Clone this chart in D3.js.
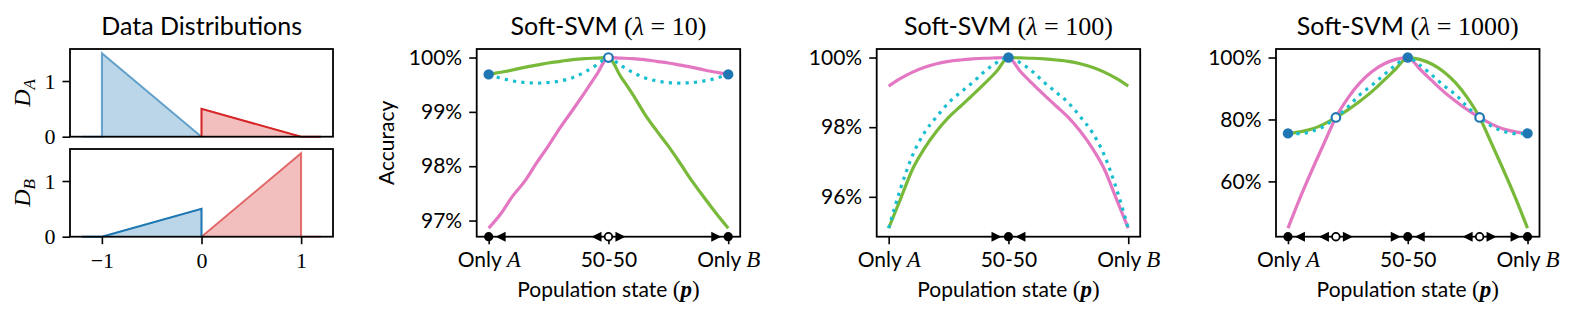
<!DOCTYPE html>
<html>
<head>
<meta charset="utf-8">
<script src="https://cdn.jsdelivr.net/npm/d3@7"></script>
<style>
  body { margin: 0; background: #fff; }
  text { font-family: Lato, "Open Sans", sans-serif; fill: #000; }
  .m { font-family: "Liberation Serif", "DejaVu Serif", serif; }
</style>
</head>
<body>
<div id="myChart"></div>
<script>
//----- data
// distribution panel: densities of the two classes under D_A and D_B
var distRange = [-1.2, 1.2];
var distTicks = [-1, 0, 1];
var distYTicks = [0, 1];
var densA_blue = [[-1, 0], [-1, 1.5], [0, 0]];
var densA_red = [[0, 0], [0, 0.5], [1, 0]];
var densB_blue = [[-1, 0], [0, 0.5], [0, 0]];
var densB_red = [[0, 0], [1, 1.5], [1, 0]];

// population state grid
var pGrid = [0, 0.05, 0.1, 0.15, 0.2, 0.25, 0.3, 0.35, 0.4, 0.45, 0.5,
             0.55, 0.6, 0.65, 0.7, 0.75, 0.8, 0.85, 0.9, 0.95, 1];
var xTickVals = [0, 0.5, 1];
var lambdas = [10, 100, 1000];

// lambda = 10
var accA10 = [99.69, 99.73, 99.77, 99.82, 99.86, 99.90, 99.93, 99.96, 99.98, 99.99, 100.0,
              99.66, 99.33, 98.97, 98.66, 98.37, 98.05, 97.72, 97.42, 97.13, 96.86];
var accB10 = [96.86, 97.12, 97.45, 97.72, 98.06, 98.38, 98.72, 99.03, 99.35, 99.68, 100.0,
              99.99, 99.98, 99.96, 99.93, 99.90, 99.86, 99.82, 99.77, 99.73, 99.69];
var avg10 = [99.69, 99.62, 99.57, 99.54, 99.53, 99.54, 99.57, 99.63, 99.73, 99.86, 100.0,
             99.86, 99.73, 99.63, 99.57, 99.54, 99.53, 99.54, 99.57, 99.62, 99.69];
var yTicks10 = [97, 98, 99, 100];

// lambda = 100
var accA100 = [95.10, 95.95, 96.80, 97.40, 97.88, 98.28, 98.60, 98.92, 99.25, 99.60, 100.0,
               99.99, 99.98, 99.96, 99.93, 99.89, 99.82, 99.72, 99.58, 99.40, 99.18];
var accB100 = [99.18, 99.40, 99.58, 99.72, 99.82, 99.89, 99.93, 99.96, 99.98, 99.99, 100.0,
               99.60, 99.25, 98.92, 98.60, 98.28, 97.88, 97.40, 96.80, 95.95, 95.10];
var avg100 = [95.10, 96.25, 97.20, 97.85, 98.30, 98.70, 99.00, 99.28, 99.60, 99.85, 100.0,
              99.85, 99.60, 99.28, 99.00, 98.70, 98.30, 97.85, 97.20, 96.25, 95.10];
var yTicks100 = [96, 98, 100];

// lambda = 1000
var accA1000 = [75.5, 76.0, 76.9, 78.5, 80.65, 83.1, 85.9, 89.0, 92.6, 96.3, 100.0,
                99.4, 97.9, 95.4, 91.8, 86.9, 80.65, 72.2, 63.6, 54.6, 44.9];
var accB1000 = [44.9, 54.6, 63.6, 72.2, 80.65, 86.9, 91.8, 95.4, 97.9, 99.4, 100.0,
                96.3, 92.6, 89.0, 85.9, 83.1, 80.65, 78.5, 76.9, 76.0, 75.5];
var avg1000 = [75.5, 75.4, 76.2, 77.8, 80.65, 84.0, 88.0, 91.0, 94.4, 97.6, 100.0,
               97.6, 94.4, 91.0, 88.0, 84.0, 80.65, 77.8, 76.2, 75.4, 75.5];
var yTicks1000 = [60, 80, 100];

// equilibria: accuracy markers (filled = stable, hollow = unstable)
var stableAcc10 = [[0, 99.69], [1, 99.69]];
var unstableAcc10 = [[0.5, 100]];
var stableAcc100 = [[0.5, 100]];
var unstableAcc100 = [];
var stableAcc1000 = [[0, 75.5], [0.5, 100], [1, 75.5]];
var unstableAcc1000 = [[0.2, 80.65], [0.8, 80.65]];

// dynamics on the population axis
var sinks10 = [0, 1], sources10 = [0.5], leftArr10 = [0.05, 0.45], rightArr10 = [0.55, 0.95];
var sinks100 = [0.5], sources100 = [], leftArr100 = [0.55], rightArr100 = [0.45];
var sinks1000 = [0, 0.5, 1], sources1000 = [0.2, 0.8];
var leftArr1000 = [0.05, 0.15, 0.55, 0.75], rightArr1000 = [0.25, 0.45, 0.85, 0.95];

//----- layout
var W = 1577, H = 319;
var TOP = 49, BOT = 236.7, PW = 263.5;
var green = "#79b93a", pink = "#e377c2", cyan = "#17becf", blue = "#1f77b4", red = "#d62728";

var svg = d3.select("#myChart").append("svg")
    .attr("width", W).attr("height", H);

function styleAxis(g) {
    g.select(".domain").remove();
    g.selectAll(".tick line").attr("stroke", "#000").attr("stroke-width", 1.6);
    g.selectAll(".tick text").attr("font-size", 21).attr("fill", "#000")
        .attr("font-family", null);
}

//----- panel 1: data distributions
var dx = d3.scaleLinear().domain([-1.32, 1.32]).range([70, 333]);
var distPanels = [
    {y0: 49, y1: 136.7, blue: densA_blue, red: densA_red, lab: "A", blueOp: 0.5, redOp: 1},
    {y0: 149, y1: 236.7, blue: densB_blue, red: densB_red, lab: "B", blueOp: 1, redOp: 0.5}
];
distPanels.forEach(function(dp, k) {
    var y = d3.scaleLinear().domain([0, 1.5 * 1.05]).range([dp.y1, dp.y0]);
    var g = svg.append("g");
    var line = d3.line().x(function(d) { return dx(d[0]); }).y(function(d) { return y(d[1]); });

    g.append("path").attr("d", line(dp.blue) + "Z")
        .attr("fill", blue).attr("fill-opacity", 0.3)
        .attr("stroke", blue).attr("stroke-opacity", 0.3).attr("stroke-width", 1.5);
    g.append("path").attr("d", line(dp.red) + "Z")
        .attr("fill", red).attr("fill-opacity", 0.3)
        .attr("stroke", red).attr("stroke-opacity", 0.3).attr("stroke-width", 1.5);
    // density lines
    g.append("path").attr("d", line([[distRange[0], 0], dp.blue[0], dp.blue[1], dp.blue[2]]))
        .attr("fill", "none").attr("stroke", blue).attr("stroke-opacity", dp.blueOp).attr("stroke-width", 2);
    g.append("path").attr("d", line([dp.red[0], dp.red[1], dp.red[2], [distRange[1], 0]]))
        .attr("fill", "none").attr("stroke", red).attr("stroke-opacity", dp.redOp).attr("stroke-width", 2);

    g.append("g").attr("transform", "translate(70,0)")
        .call(d3.axisLeft(y).tickValues(distYTicks).tickSize(7.5).tickPadding(7).tickSizeOuter(0)
            .tickFormat(d3.format("d")))
        .call(styleAxis)
        .selectAll("text").attr("class", "m").attr("font-size", 22);

    if (k === 1) {
        g.append("g").attr("transform", "translate(0," + dp.y1 + ")")
            .call(d3.axisBottom(dx).tickValues(distTicks).tickSize(7.5).tickPadding(8).tickSizeOuter(0)
                .tickFormat(function(d) { return d < 0 ? "\u2212" + Math.abs(d) : d; }))
            .call(styleAxis)
            .selectAll("text").attr("class", "m").attr("font-size", 22);
    }
    g.append("rect").attr("x", 70).attr("y", dp.y0).attr("width", 263).attr("height", dp.y1 - dp.y0)
        .attr("fill", "none").attr("stroke", "#000").attr("stroke-width", 1.8);

    var lab = g.append("text").attr("class", "m")
        .attr("transform", "translate(30," + ((dp.y0 + dp.y1) / 2) + ") rotate(-90)")
        .attr("text-anchor", "middle").attr("font-size", 24).attr("font-style", "italic");
    lab.append("tspan").text("D");
    lab.append("tspan").attr("font-size", 17).attr("dy", 5).text(dp.lab);
});

svg.append("text").attr("x", 201.7).attr("y", 35).attr("text-anchor", "middle")
    .attr("font-size", 25).text("Data Distributions");

//----- panels 2-4: accuracy vs population state
var panels = [
    {left: 476.7, lam: lambdas[0], A: accA10, B: accB10, avg: avg10, yt: yTicks10,
     st: stableAcc10, un: unstableAcc10, sinks: sinks10, sources: sources10, la: leftArr10, ra: rightArr10},
    {left: 876.7, lam: lambdas[1], A: accA100, B: accB100, avg: avg100, yt: yTicks100,
     st: stableAcc100, un: unstableAcc100, sinks: sinks100, sources: sources100, la: leftArr100, ra: rightArr100},
    {left: 1276, lam: lambdas[2], A: accA1000, B: accB1000, avg: avg1000, yt: yTicks1000,
     st: stableAcc1000, un: unstableAcc1000, sinks: sinks1000, sources: sources1000, la: leftArr1000, ra: rightArr1000}
];

panels.forEach(function(pn, k) {
    var x = d3.scaleLinear().domain([-0.05, 1.05]).range([pn.left, pn.left + PW]);
    var all = pn.A.concat(pn.B, pn.avg);
    var lo = d3.min(all), hi = d3.max(all), m = (hi - lo) * 0.05;
    var y = d3.scaleLinear().domain([lo - m, hi + m]).range([BOT, TOP]);
    var g = svg.append("g");

    var line = d3.line()
        .x(function(d, i) { return x(pGrid[i]); })
        .y(function(d) { return y(d); })
        .curve(d3.curveMonotoneX);

    g.append("path").attr("d", line(pn.A)).attr("fill", "none")
        .attr("stroke", green).attr("stroke-width", 3.2);
    g.append("path").attr("d", line(pn.B)).attr("fill", "none")
        .attr("stroke", pink).attr("stroke-width", 3.2);
    g.append("path").attr("d", line(pn.avg)).attr("fill", "none")
        .attr("stroke", cyan).attr("stroke-width", 3.2).attr("stroke-dasharray", "3.2,5.2");

    // y axis
    g.append("g").attr("transform", "translate(" + pn.left + ",0)")
        .call(d3.axisLeft(y).tickValues(pn.yt).tickSize(7.5).tickPadding(7).tickSizeOuter(0)
            .tickFormat(function(d) { return d + "%"; }))
        .call(styleAxis);

    // x axis
    var xa = g.append("g").attr("transform", "translate(0," + BOT + ")")
        .call(d3.axisBottom(x).tickValues(xTickVals).tickSize(7.5).tickPadding(8).tickSizeOuter(0)
            .tickFormat(""))
        .call(styleAxis);
    xa.selectAll(".tick text").each(function(d) {
        var t = d3.select(this);
        if (d === 0.5) { t.text("50-50"); return; }
        t.append("tspan").text("Only ");
        t.append("tspan").attr("class", "m").attr("font-style", "italic").attr("font-size", 23)
            .text(d === 0 ? "A" : "B");
    });

    g.append("rect").attr("x", pn.left).attr("y", TOP).attr("width", PW).attr("height", BOT - TOP)
        .attr("fill", "none").attr("stroke", "#000").attr("stroke-width", 1.8);

    // accuracy at equilibria
    g.selectAll(".st").data(pn.st).enter().append("circle")
        .attr("cx", function(d) { return x(d[0]); }).attr("cy", function(d) { return y(d[1]); })
        .attr("r", 5.2).attr("fill", blue);
    g.selectAll(".un").data(pn.un).enter().append("circle")
        .attr("cx", function(d) { return x(d[0]); }).attr("cy", function(d) { return y(d[1]); })
        .attr("r", 4.3).attr("fill", "#fff").attr("stroke", blue).attr("stroke-width", 2.2);

    // dynamics on the axis
    g.selectAll(".la").data(pn.la).enter().append("path")
        .attr("transform", function(d) { return "translate(" + x(d) + "," + BOT + ")"; })
        .attr("d", "M-5,0L5,-5L5,5Z").attr("fill", "#000");
    g.selectAll(".ra").data(pn.ra).enter().append("path")
        .attr("transform", function(d) { return "translate(" + x(d) + "," + BOT + ")"; })
        .attr("d", "M5,0L-5,-5L-5,5Z").attr("fill", "#000");
    g.selectAll(".sk").data(pn.sinks).enter().append("circle")
        .attr("cx", function(d) { return x(d); }).attr("cy", BOT)
        .attr("r", 4.6).attr("fill", "#000");
    g.selectAll(".sr").data(pn.sources).enter().append("circle")
        .attr("cx", function(d) { return x(d); }).attr("cy", BOT)
        .attr("r", 3.8).attr("fill", "#fff").attr("stroke", "#000").attr("stroke-width", 1.8);

    // title
    var cx = pn.left + PW / 2;
    var t = g.append("text").attr("x", cx).attr("y", 35).attr("text-anchor", "middle").attr("font-size", 25);
    t.append("tspan").text("Soft-SVM ");
    t.append("tspan").attr("class", "m").attr("font-size", 26).text("(");
    t.append("tspan").attr("class", "m").attr("font-size", 26).attr("font-style", "italic").text("\u03bb");
    t.append("tspan").attr("class", "m").attr("font-size", 26).text(" = " + pn.lam + ")");

    // x label
    var xl = g.append("text").attr("x", cx).attr("y", 297).attr("text-anchor", "middle").attr("font-size", 21);
    xl.append("tspan").text("Population state ");
    xl.append("tspan").attr("class", "m").attr("font-size", 23).text("(");
    xl.append("tspan").attr("class", "m").attr("font-size", 23).attr("font-weight", "bold")
        .attr("font-style", "italic").text("p");
    xl.append("tspan").attr("class", "m").attr("font-size", 23).text(")");

    if (k === 0) {
        g.append("text").attr("transform", "translate(394," + ((TOP + BOT) / 2) + ") rotate(-90)")
            .attr("text-anchor", "middle").attr("font-size", 21).text("Accuracy");
    }
});
</script>
</body>
</html>
